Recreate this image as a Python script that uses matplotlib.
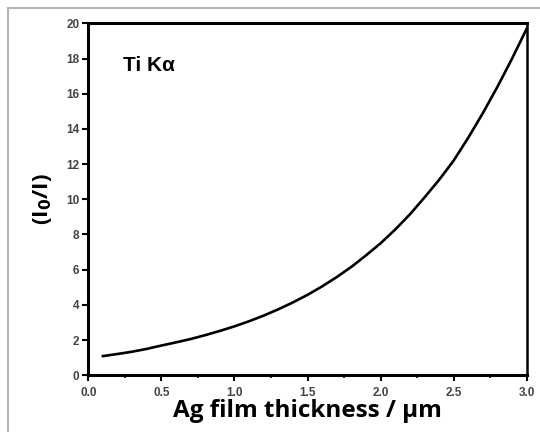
"""Ti K-alpha attenuation ratio vs Ag film thickness."""
import matplotlib
matplotlib.use("Agg")
import matplotlib.pyplot as plt
from matplotlib.lines import Line2D

thickness = [0.1, 0.2, 0.3, 0.4, 0.5, 0.6, 0.7, 0.8, 0.9, 1.0,
             1.1, 1.2, 1.3, 1.4, 1.5, 1.6, 1.7, 1.8, 1.9, 2.0,
             2.1, 2.2, 2.3, 2.4, 2.5, 2.6, 2.7, 2.8, 2.9, 3.0]
ratio = [1.09, 1.21, 1.34, 1.50, 1.69, 1.87, 2.06, 2.28, 2.52, 2.78,
         3.07, 3.39, 3.75, 4.14, 4.57, 5.05, 5.58, 6.16, 6.81, 7.50,
         8.28, 9.14, 10.1, 11.1, 12.2, 13.5, 14.9, 16.4, 18.0, 19.7]
xticks = [0.0, 0.5, 1.0, 1.5, 2.0, 2.5, 3.0]
yticks = [0, 2, 4, 6, 8, 10, 12, 14, 16, 18, 20]

fig = plt.figure(figsize=(5.4, 4.32), dpi=100)
ax = fig.add_axes([0.1635, 0.1313, 0.9754 - 0.1635, 0.946 - 0.1313])

ax.plot(thickness, ratio, color="black", lw=1.9)
ax.set_xlim(0, 3.0)
ax.set_ylim(0, 20)
ax.set_xticks(xticks)
ax.set_xticks([0.25, 0.75, 1.25, 1.75, 2.25, 2.75], minor=True)
ax.set_yticks(yticks)
ax.set_xticklabels([f"{v:.1f}" for v in xticks])
ax.set_yticklabels([str(v) for v in yticks])

for lab in ax.get_xticklabels() + ax.get_yticklabels():
    lab.set_fontfamily("Liberation Sans")
    lab.set_fontweight("bold")
    lab.set_fontsize(8.5)
    lab.set_color("#444444")

ax.tick_params(which="major", direction="out", length=4.5, width=1.5, pad=2)
ax.tick_params(axis="x", which="major", pad=4)
ax.tick_params(which="minor", direction="out", length=2.5, width=1.2)
for side in ["left", "bottom", "top"]:
    ax.spines[side].set_linewidth(2.2)
ax.spines["right"].set_linewidth(1.8)

ax.set_xlabel("Ag film thickness / µm", fontfamily="Open Sans",
              fontweight="bold", fontsize=17.5, labelpad=0)
ax.set_ylabel("(I$_\\mathbf{0}$/I)", fontfamily="Open Sans",
              fontweight="bold", fontsize=16, labelpad=9)
ax.text(0.24, 17.6, "Ti Kα", fontfamily="Liberation Sans", fontweight="bold",
        fontsize=15, ha="left", va="center")

# light grey frame on the left and top edges of the picture
fig.add_artist(Line2D([8 / 540, 8 / 540], [0, 1 - 8 / 432],
                      transform=fig.transFigure, color="#b5b5b5", lw=1.5))
fig.add_artist(Line2D([8 / 540, 1], [1 - 8 / 432, 1 - 8 / 432],
                      transform=fig.transFigure, color="#b5b5b5", lw=1.5))

fig.savefig("out.png", dpi=100)
